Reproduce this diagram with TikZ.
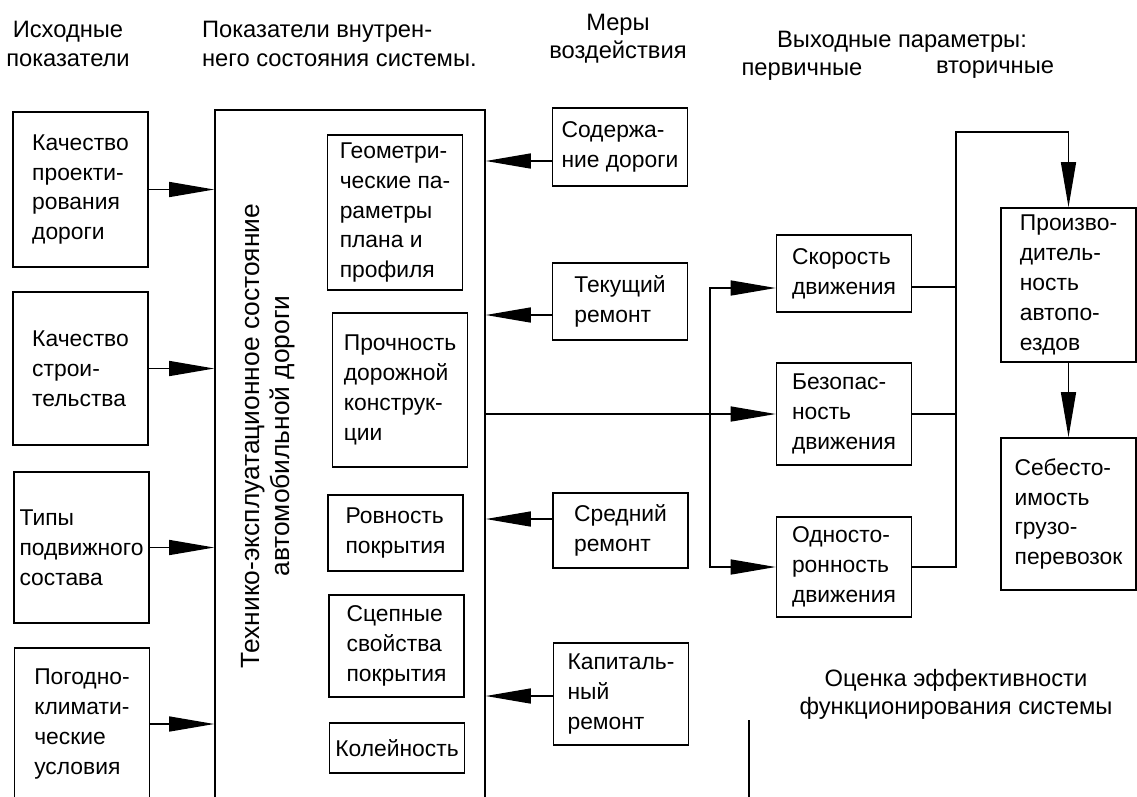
\documentclass[tikz,border=0pt]{standalone}
\usepackage{fontspec}
\setmainfont{Liberation Sans}
\usepackage{xcolor}
\usetikzlibrary{arrows.meta}

\begin{document}
\begin{tikzpicture}[
        x=0.02cm, y=-0.02cm,
        every node/.style={font=\fontsize{13pt}{17pt}\selectfont},
        headNode/.style={align=center, inner sep=1pt, font=\fontsize{13.5pt}{16pt}\selectfont},
        itemNode/.style={rectangle, draw, line width=0.9pt, minimum width=2.7cm,
        align=left, inner xsep=2pt, inner ysep=2pt},
        flowArrow/.style={line width=0.8pt, -{Triangle[length=0.9cm, width=0.3cm]}},
        flowLine/.style={line width=0.8pt},
    ]
    \useasboundingbox (0,0) rectangle (1137,796);
    \clip (0,0) rectangle (1137,796);

    \node[headNode]                 (srcHead)    at (68,44)   {Исходные\\показатели};
    \node[headNode, align=left, anchor=west] (stateHead) at (200,44) {Показатели внутрен-\\него состояния системы.};
    \node[headNode]                 (actHead)    at (618,39)  {Меры\\воздействия};
    \node[headNode]                 (outHead)    at (902,42)  {Выходные параметры:};
    \node[headNode]                 (primHead)   at (802,72)  {первичные};
    \node[headNode]                 (secHead)    at (995,70)  {вторичные};
    \node[headNode]                 (evalHead)   at (956,694) {Оценка эффективности\\функционирования системы};

    \node[itemNode, minimum height=3.1cm]  (qualDesign) at (80.5,189.5) {Качество\\проекти-\\рования\\дороги};
    \node[itemNode, minimum height=3.06cm] (qualBuild)  at (80.5,368.5) {Качество\\строи-\\тельства};
    \node[itemNode, minimum height=3.02cm] (rollStock)  at (81.5,547.5) {Типы\\подвижного\\состава};
    \node[itemNode, minimum height=3.04cm] (climate)    at (82,724)     {Погодно-\\климати-\\ческие\\условия};

    \node[draw, line width=0.9pt, minimum width=5.4cm, minimum height=14.4cm] (state) at (350,470) {};
    \node[rotate=90, align=center, font=\fontsize{15pt}{17pt}\selectfont] (stateLabel) at (268,436)
        {Технико-эксплуатационное состояние\\автомобильной дороги};

    \node[itemNode, minimum height=3.1cm]  (geomParams) at (395,212.5) {Геометри-\\ческие па-\\раметры\\плана и\\профиля};
    \node[itemNode, minimum height=3.08cm] (strength)   at (400,390)   {Прочность\\дорожной\\конструк-\\ции};
    \node[itemNode, minimum height=1.52cm] (evenness)   at (395.5,533) {Ровность\\покрытия};
    \node[itemNode, minimum height=2.04cm] (adhesion)   at (396.5,646) {Сцепные\\свойства\\покрытия};
    \node[itemNode, minimum height=1.0cm]  (rutting)    at (397,748)   {Колейность};

    \node[itemNode, minimum height=1.56cm] (maintenance) at (620,147)   {Содержа-\\ние дороги};
    \node[itemNode, minimum height=1.54cm] (currentRep)  at (620,301.5) {Текущий\\ремонт};
    \node[itemNode, minimum height=1.5cm]  (midRep)      at (620.5,530.5) {Средний\\ремонт};
    \node[itemNode, minimum height=2.04cm] (capRep)      at (621,694)   {Капиталь-\\ный\\ремонт};

    \node[itemNode, minimum height=1.54cm] (speed)   at (844,273.5) {Скорость\\движения};
    \node[itemNode, minimum height=2.04cm] (safety)  at (844,414)   {Безопас-\\ность\\движения};
    \node[itemNode, minimum height=2.0cm]  (oneway)  at (844,567)   {Односто-\\ронность\\движения};

    \node[itemNode, minimum height=3.08cm] (product) at (1068.5,285) {Произво-\\дитель-\\ность\\автопо-\\ездов};
    \node[itemNode, minimum height=3.04cm] (cost)    at (1068.5,514) {Себесто-\\имость\\грузо-\\перевозок};

    \coordinate (fork)    at (710,414);
    \coordinate (collect) at (956,132);
    \coordinate (evalTop) at (749,720);
    \coordinate (evalEnd) at (749,800);

    \draw[flowArrow] (qualDesign.east) -- (qualDesign.east -| state.west);
    \draw[flowArrow] (qualBuild.east)  -- (qualBuild.east -| state.west);
    \draw[flowArrow] (rollStock.east)  -- (rollStock.east -| state.west);
    \draw[flowArrow] (climate.east)    -- (climate.east -| state.west);

    \draw[flowArrow] ([yshift=-0.28cm]maintenance.west) -- ([yshift=-0.28cm]maintenance.west -| state.east);
    \draw[flowArrow] ([yshift=-0.27cm]currentRep.west)  -- ([yshift=-0.27cm]currentRep.west -| state.east);
    \draw[flowArrow] ([yshift=0.23cm]midRep.west)       -- ([yshift=0.23cm]midRep.west -| state.east);
    \draw[flowArrow] ([yshift=-0.04cm]capRep.west)      -- ([yshift=-0.04cm]capRep.west -| state.east);

    \draw[flowArrow] (safety.west -| state.east) -- (safety.west);
    \draw[flowArrow] (fork) |- ([yshift=-0.29cm]speed.west);
    \draw[flowArrow] (fork) |- (oneway.west);

    \draw[flowLine]  ([yshift=-0.27cm]speed.east) -- ([yshift=-0.27cm]speed.east -| collect);
    \draw[flowLine]  (safety.east) -- (safety.east -| collect);
    \draw[flowArrow] (oneway.east) -| (collect) -| (product.north);
    \draw[flowArrow] (product.south) -- (cost.north);

    \draw[flowLine]  (evalTop) -- (evalEnd);
\end{tikzpicture}
\end{document}
